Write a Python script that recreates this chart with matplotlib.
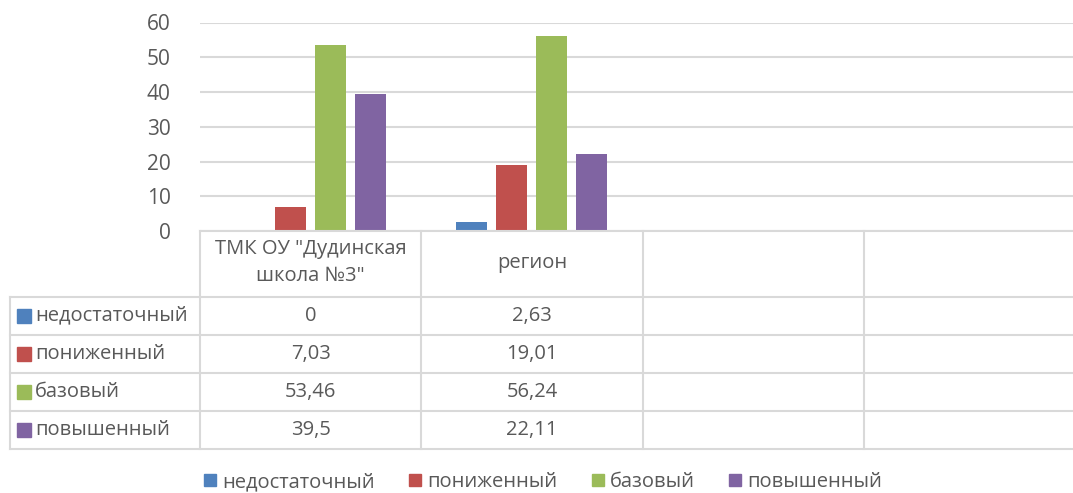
import matplotlib
matplotlib.use("Agg")
import matplotlib.pyplot as plt
from matplotlib.lines import Line2D
from matplotlib.patches import Rectangle

categories = ['ТМК ОУ "Дудинская\nшкола №3"', "регион", "", ""]
series = ["недостаточный", "пониженный", "базовый", "повышенный"]
nedostat = [0, 2.63, None, None]
ponizh = [7.03, 19.01, None, None]
bazov = [53.46, 56.24, None, None]
povysh = [39.5, 22.11, None, None]
values = [nedostat, ponizh, bazov, povysh]
colors = ["#4F81BD", "#C0504D", "#9BBB59", "#8064A2"]
yticks = [0, 10, 20, 30, 40, 50, 60]

W, H = 1073, 493
plt.rcParams["font.family"] = ["Open Sans", "DejaVu Sans"]
txt = "#595959"
grid = "#D9D9D9"
fs = 14.5

fig = plt.figure(figsize=(W / 100, H / 100), dpi=100)

# plot area in pixel coords (runs a bit past the right edge of the image)
x0, x1 = 200, 1085
y_top, y_zero = 22.5, 231
ax = fig.add_axes([x0 / W, 1 - y_zero / H, (x1 - x0) / W, (y_zero - y_top) / H])
n = len(categories)
bw = 0.14
step = 0.181
for i, (s, vals, c) in enumerate(zip(series, values, colors)):
    for j, v in enumerate(vals):
        if v is None:
            continue
        ax.bar(j + (i - 1.5) * step, v, width=bw, color=c, zorder=3)
ax.set_xlim(-0.5, n - 0.5)
ax.set_ylim(0, 60)
ax.set_yticks(yticks)
ax.set_yticklabels([str(t) for t in yticks], color=txt, fontsize=15)
ax.tick_params(axis="y", length=0, pad=21)
ax.set_xticks([])
ax.yaxis.grid(True, color=grid, linewidth=1.5, zorder=0)
for sp in ax.spines.values():
    sp.set_visible(False)

# data table drawn in pixel coordinates
def fx(px):
    return px / W

def fy(py):
    return 1 - py / H

def hline(xa, xb, y):
    fig.add_artist(Line2D([fx(xa), fx(xb)], [fy(y), fy(y)], color=grid, lw=1.5))

def vline(x, ya, yb):
    fig.add_artist(Line2D([fx(x), fx(x)], [fy(ya), fy(yb)], color=grid, lw=1.5))

col_w = (x1 - x0) / n
head_bot = 296.5
row_h = 38.2
left = 9.5
rows_y = [head_bot + k * row_h for k in range(len(series) + 1)]

hline(x0, x1, y_zero)
for y in rows_y:
    hline(left, x1, y)
for j in range(n):
    vline(x0 + j * col_w, y_zero, rows_y[-1])
vline(left, head_bot, rows_y[-1])

for j, cat in enumerate(categories):
    fig.text(fx(x0 + (j + 0.5) * col_w), fy((y_zero + head_bot) / 2 - 1), cat,
             ha="center", va="center", color=txt, fontsize=fs, linespacing=1.45)

for i, (s, vals, c) in enumerate(zip(series, values, colors)):
    yc = rows_y[i] + row_h / 2
    fig.add_artist(Rectangle((fx(17), fy(yc + 7)), 14 / W, 14 / H, color=c,
                             transform=fig.transFigure))
    fig.text(fx(35), fy(yc), s, ha="left", va="center", color=txt, fontsize=fs)
    for j, v in enumerate(vals):
        if v is None:
            continue
        label = ("%g" % v).replace(".", ",")
        fig.text(fx(x0 + (j + 0.5) * col_w), fy(yc), label, ha="center",
                 va="center", color=txt, fontsize=fs)

# legend at the bottom
handles = [Rectangle((0, 0), 1, 1, color=c) for c in colors]
fig.legend(handles, series, loc="center", bbox_to_anchor=(fx(543), fy(482)),
           ncol=4, frameon=False, fontsize=fs, labelcolor=txt,
           handlelength=0.6, handleheight=0.6, handletextpad=0.3,
           columnspacing=1.7)

fig.savefig("out.png", dpi=100)
